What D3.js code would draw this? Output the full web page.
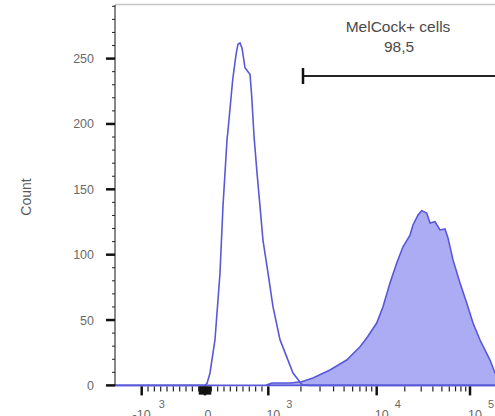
<!DOCTYPE html>
<html>
<head>
<meta charset="utf-8">
<script src="https://cdn.jsdelivr.net/npm/d3@7"></script>
<style>
  body { margin: 0; background: #fff; }
  svg { display: block; font-family: "Liberation Sans", Arial, sans-serif; }
</style>
</head>
<body>
<svg id="chart" width="495" height="416"></svg>
<script>
// histogram: fluorescence value / count
var ctrlX = [-1500, 0, 32, 79, 158, 237, 284, 348, 363, 438, 490, 521, 553, 585, 632, 679, 711, 738, 774, 821, 869, 916, 995, 1105, 1282, 1690, 2046, 2400, 200000];
var ctrlCount = [0, 0, 1.5, 9.5, 35, 86, 137, 188, 195, 234, 253, 261, 262, 258, 243, 240, 238, 221, 191, 163, 137, 111, 86, 60, 35, 9.5, 0.5, 0, 0];

var stainX = [-1500, 948, 1082, 1586, 2032, 2583, 3706, 5284, 7017, 8091, 10000, 11680, 13880, 16390, 19140, 22750, 24490, 27720, 30360, 34350, 37260, 42170, 47700, 53960, 58090, 65730, 78150, 92170, 107700, 128000, 163900, 185400, 200000];
var stainCount = [0, 0, 1.8, 1.8, 2.8, 5.7, 11.8, 19.4, 29.6, 36.3, 47.7, 60.2, 78.3, 93.6, 106, 115, 122.7, 130.4, 133.7, 131.9, 124.2, 125.2, 118.9, 119.7, 112.8, 96, 78.3, 63, 47.7, 34.7, 19.4, 9.5, 6];

var xMajor = [-1000, 0, 1000, 10000, 100000];
var xMajorExp = [3, null, 3, 4, 5];
var yMajor = [0, 50, 100, 150, 200, 250];

var gateLabel = "MelCock+ cells";
var gatePct = "98,5";
var gateMin = 2090, gateMax = 400000, gateLevel = 236.7;

var svg = d3.select("#chart");
var plotLeft = 115, plotRight = 495, plotTop = 5, plotBottom = 385.4;

// logicle-like x: linear around zero, log above 10^3
var xLin = d3.scaleLinear().domain([-1000, 1000]).range([141.7, 268.3]);
var xLog = d3.scaleLog().domain([1000, 10000, 100000]).range([268.3, 376.7, 470]);
var x = function(v) { return v < 1000 ? xLin(v) : xLog(v); };

var y = d3.scaleLinear().domain([0, 291]).range([plotBottom, plotTop]);

var blue = "#5858d8";

svg.append("defs").append("clipPath").attr("id", "plot")
  .append("rect").attr("x", plotLeft).attr("y", 0).attr("width", plotRight - plotLeft).attr("height", plotBottom + 2);

// top frame line
svg.append("line").attr("x1", plotLeft).attr("x2", plotRight).attr("y1", 4.5).attr("y2", 4.5)
  .attr("stroke", "#c4c4c4").attr("stroke-width", 1.5);

var plot = svg.append("g").attr("clip-path", "url(#plot)");

var stain = d3.range(stainX.length).map(function(i) { return [stainX[i], stainCount[i]]; });
var ctrl = d3.range(ctrlX.length).map(function(i) { return [ctrlX[i], ctrlCount[i]]; });

plot.append("path")
  .attr("d", d3.area().x(function(d) { return x(d[0]); }).y0(y(0)).y1(function(d) { return y(d[1]); })(stain))
  .attr("fill", "#acacf4")
  .attr("stroke", blue)
  .attr("stroke-width", 1.6);

plot.append("path")
  .attr("d", d3.line().x(function(d) { return x(d[0]); }).y(function(d) { return y(d[1]); })(ctrl))
  .attr("fill", "none")
  .attr("stroke", blue)
  .attr("stroke-width", 1.6);

// y axis
svg.append("line").attr("x1", plotLeft).attr("x2", plotLeft).attr("y1", plotTop).attr("y2", plotBottom)
  .attr("stroke", "#111").attr("stroke-width", 1);

svg.selectAll(".yminor").data(d3.range(10, 291, 10).filter(function(v) { return v % 50; }))
  .enter().append("line")
  .attr("x1", plotLeft - 3).attr("x2", plotLeft)
  .attr("y1", y).attr("y2", y)
  .attr("stroke", "#222").attr("stroke-width", 1);

svg.selectAll(".ymajor").data(yMajor).enter().append("line")
  .attr("x1", plotLeft - 9).attr("x2", plotLeft)
  .attr("y1", y).attr("y2", y)
  .attr("stroke", "#111").attr("stroke-width", 2.5);

svg.selectAll(".ylab").data(yMajor).enter().append("text")
  .attr("x", 94).attr("y", function(d) { return y(d) + 4.5; })
  .attr("text-anchor", "end")
  .attr("font-size", 12.5)
  .attr("fill", "#6a6a6a")
  .text(function(d) { return d; });

svg.append("text")
  .attr("transform", "translate(31,197) rotate(-90)")
  .attr("text-anchor", "middle")
  .attr("font-size", 14)
  .attr("fill", "#5a5a5a")
  .text("Count");

// x axis ticks
var xMinor = d3.range(-900, 1000, 100).filter(function(v) { return v !== 0; })
  .concat(d3.range(2, 10).map(function(k) { return k * 1000; }))
  .concat(d3.range(2, 10).map(function(k) { return k * 10000; }));
var xFine = d3.range(-90, 100, 10).filter(function(v) { return v !== 0; });

svg.selectAll(".xfine").data(xFine).enter().append("line")
  .attr("x1", x).attr("x2", x).attr("y1", plotBottom + 1).attr("y2", plotBottom + 9)
  .attr("stroke", "#111").attr("stroke-width", 1.2);

svg.selectAll(".xminor").data(xMinor).enter().append("line")
  .attr("x1", x).attr("x2", x).attr("y1", plotBottom + 1).attr("y2", plotBottom + 6)
  .attr("stroke", "#222").attr("stroke-width", 1.2);

svg.selectAll(".xmajor").data(xMajor).enter().append("line")
  .attr("x1", x).attr("x2", x).attr("y1", plotBottom + 1).attr("y2", plotBottom + 10)
  .attr("stroke", "#111").attr("stroke-width", 2.5);

var xl = svg.selectAll(".xlab").data(xMajor).enter().append("g");
xl.append("text")
  .attr("x", function(d) { return d === 0 ? x(d) + 3 : x(d) + (d < 0 ? 9 : 12); })
  .attr("y", 419)
  .attr("text-anchor", function(d) { return d === 0 ? "middle" : "end"; })
  .attr("font-size", 12.5)
  .attr("fill", "#6a6a6a")
  .text(function(d) { return d === 0 ? "0" : (d < 0 ? "-10" : "10"); });
xl.filter(function(d, i) { return xMajorExp[i] !== null; }).append("text")
  .attr("x", function(d) { return x(d) + (d < 0 ? 17 : 18); })
  .attr("y", 408)
  .attr("font-size", 11)
  .attr("fill", "#6a6a6a")
  .text(function(d) { return xMajorExp[xMajor.indexOf(d)]; });

// gate
svg.append("line")
  .attr("x1", x(gateMin)).attr("x2", x(gateMax))
  .attr("y1", y(gateLevel)).attr("y2", y(gateLevel))
  .attr("stroke", "#222").attr("stroke-width", 2);
svg.append("line")
  .attr("x1", x(gateMin)).attr("x2", x(gateMin))
  .attr("y1", y(gateLevel) - 8).attr("y2", y(gateLevel) + 8)
  .attr("stroke", "#111").attr("stroke-width", 2.5);

svg.append("text").attr("x", 398).attr("y", 32)
  .attr("text-anchor", "middle").attr("font-size", 15.5).attr("fill", "#4a4a4a")
  .text(gateLabel);
svg.append("text").attr("x", 399).attr("y", 52)
  .attr("text-anchor", "middle").attr("font-size", 15.5).attr("fill", "#4a4a4a")
  .text(gatePct);
</script>
</body>
</html>
